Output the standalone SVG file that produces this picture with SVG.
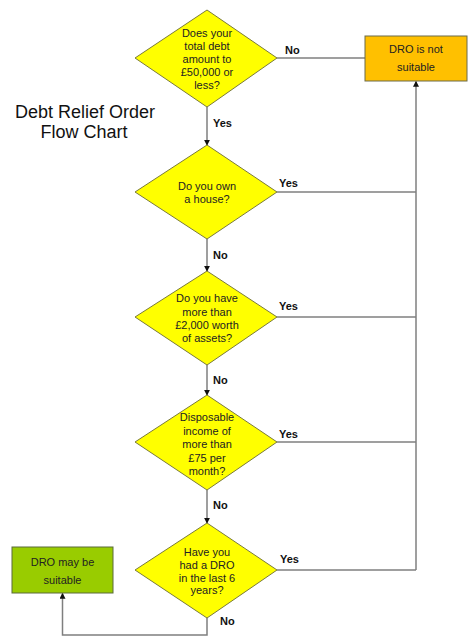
<svg xmlns="http://www.w3.org/2000/svg" width="474" height="642" viewBox="0 0 474 642">
<style>
.dia{fill:#FFFF00;stroke:#7a7a3a;stroke-width:1}
.t{font-family:"Liberation Sans",Arial,sans-serif;font-size:11px;fill:#222;text-anchor:middle}
.lbl{font-family:"Liberation Sans",Arial,sans-serif;font-size:11px;font-weight:bold;fill:#111}
.ttl{font-family:"Liberation Sans",Arial,sans-serif;font-size:18px;fill:#111;text-anchor:middle}
.ln{fill:none;stroke:#7f7f7f;stroke-width:1.5}
</style>
<defs>
<marker id="ah" viewBox="0 0 8 8" refX="7" refY="4" markerWidth="6" markerHeight="6" orient="auto" markerUnits="userSpaceOnUse">
<path d="M0,0 L8,4 L0,8 z" fill="#111"/>
</marker>
</defs>
<rect width="474" height="642" fill="#fff"/>
<text class="ttl" x="85" y="118">Debt Relief Order</text>
<text class="ttl" x="84" y="138">Flow Chart</text>
<g id="connectors">
<path class="ln" d="M277,58 H365"/>
<path class="ln" d="M207,107 V145" marker-end="url(#ah)"/>
<path class="ln" d="M207,239 V271" marker-end="url(#ah)"/>
<path class="ln" d="M207,365 V395" marker-end="url(#ah)"/>
<path class="ln" d="M207,490 V523" marker-end="url(#ah)"/>
<path class="ln" d="M416,570 V81.5" marker-end="url(#ah)"/>
<path class="ln" d="M277,192 H416"/>
<path class="ln" d="M277,317 H416"/>
<path class="ln" d="M277,442 H416"/>
<path class="ln" d="M277,570 H416"/>
<path class="ln" d="M207,618 V635 H62.5 V593.5" marker-end="url(#ah)"/>
<text class="lbl" x="285" y="54">No</text>
<text class="lbl" x="213" y="127">Yes</text>
<text class="lbl" x="279" y="187">Yes</text>
<text class="lbl" x="213" y="259">No</text>
<text class="lbl" x="279" y="310">Yes</text>
<text class="lbl" x="213" y="384">No</text>
<text class="lbl" x="279" y="438">Yes</text>
<text class="lbl" x="213" y="509">No</text>
<text class="lbl" x="280" y="563">Yes</text>
<text class="lbl" x="220" y="625">No</text>
</g>
<g id="d1">
<polygon class="dia" points="207,10 277,58 207,107 135,58"/>
<text class="t" x="207" y="37">Does your</text>
<text class="t" x="207" y="50">total debt</text>
<text class="t" x="207" y="63">amount to</text>
<text class="t" x="207" y="76">£50,000 or</text>
<text class="t" x="207" y="89">less?</text>
</g>
<g id="d2">
<polygon class="dia" points="207,145 277,192 207,239 135,192"/>
<text class="t" x="207" y="190">Do you own</text>
<text class="t" x="207" y="203">a house?</text>
</g>
<g id="d3">
<polygon class="dia" points="207,271 277,317 207,365 135,317"/>
<text class="t" x="207" y="302">Do you have</text>
<text class="t" x="207" y="315.5">more than</text>
<text class="t" x="207" y="329">£2,000 worth</text>
<text class="t" x="207" y="342">of assets?</text>
</g>
<g id="d4">
<polygon class="dia" points="207,395 277,442 207,490 135,442"/>
<text class="t" x="207" y="421">Disposable</text>
<text class="t" x="207" y="434.5">income of</text>
<text class="t" x="207" y="448">more than</text>
<text class="t" x="207" y="461.5">£75 per</text>
<text class="t" x="207" y="474.5">month?</text>
</g>
<g id="d5">
<polygon class="dia" points="207,523 277,570 207,618 135,570"/>
<text class="t" x="207" y="555.5">Have you</text>
<text class="t" x="207" y="568.5">had a DRO</text>
<text class="t" x="207" y="581.5">in the last 6</text>
<text class="t" x="207" y="594">years?</text>
</g>
<g id="not-suitable">
<rect x="365" y="36" width="102" height="45" fill="#FFC000" stroke="#6b6b4a" stroke-width="1"/>
<text class="t" x="416" y="53">DRO is not</text>
<text class="t" x="416" y="71">suitable</text>
</g>
<g id="may-be-suitable">
<rect x="12" y="547" width="101" height="46" fill="#99CC00" stroke="#5a6a3a" stroke-width="1"/>
<text class="t" x="62.5" y="566">DRO may be</text>
<text class="t" x="62.5" y="584">suitable</text>
</g>
</svg>
